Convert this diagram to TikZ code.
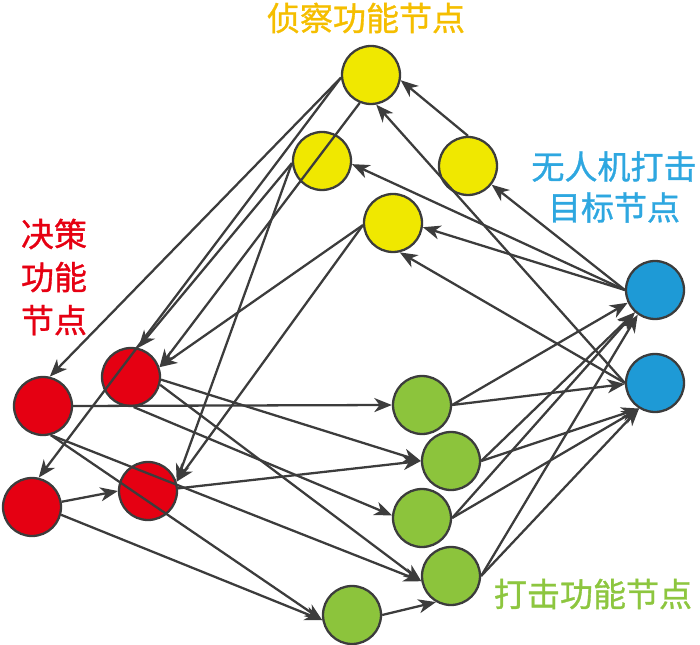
\documentclass[tikz,border=0pt]{standalone}
\usepackage{fontspec}
\newfontfamily\cjk{Noto Sans CJK SC}[FakeBold=1]
\usetikzlibrary{arrows.meta, positioning}
\definecolor{edgegray}{HTML}{3C3C3C}
\definecolor{reconfill}{HTML}{F0E800}
\definecolor{decisionfill}{HTML}{E50012}
\definecolor{strikefill}{HTML}{8CC43C}
\definecolor{targetfill}{HTML}{1E9AD6}
\definecolor{recontext}{HTML}{F5BE00}
\definecolor{decisiontext}{HTML}{E60012}
\definecolor{striketext}{HTML}{8DC63F}
\definecolor{targettext}{HTML}{2EA7E0}

\begin{document}
\begin{tikzpicture}[x=0.02cm, y=-0.02cm,
    unit/.style={circle, draw=edgegray, line width=1.3pt, minimum size=1.16cm, inner sep=0pt},
    link/.style={draw=edgegray, line width=1.3pt, -{Stealth[length=10pt, width=8pt, inset=3pt]}},
    tag/.style={font=\cjk\fontsize{18.8}{24.5}\selectfont, align=center, inner sep=0pt}]
  \useasboundingbox (0,0) rectangle (700,645);
  % Reconnaissance nodes
  \node[unit, fill=reconfill] (y1) at (371,75) {};
  \node[unit, fill=reconfill] (y2) at (322,161) {};
  \node[unit, fill=reconfill] (y3) at (468,166) {};
  \node[unit, fill=reconfill] (y4) at (393,223) {};
  % Target nodes
  \node[unit, fill=targetfill] (b1) at (655,290) {};
  \node[unit, fill=targetfill] (b2) at (655,383) {};
  % Strike nodes
  \node[unit, fill=strikefill] (g1) at (422,405) {};
  \node[unit, fill=strikefill] (g2) at (451,461) {};
  \node[unit, fill=strikefill] (g3) at (422,518) {};
  \node[unit, fill=strikefill] (g4) at (451,576) {};
  \node[unit, fill=strikefill] (g5) at (352,615) {};
  % Decision nodes
  \node[unit, fill=decisionfill] (r1) at (43,406) {};
  \node[unit, fill=decisionfill] (r2) at (131,377) {};
  \node[unit, fill=decisionfill] (r3) at (32,507) {};
  \node[unit, fill=decisionfill] (r4) at (148,491) {};
  % Labels
  \node[tag, text=recontext] (reconlabel) at (366,18) {侦察功能节点};
  \node[tag, text=targettext, font=\cjk\fontsize{18.8}{23.3}\selectfont] (targetlabel) at (614,187) {无人机打击\\目标节点};
  \node[tag, text=decisiontext] (decisionlabel) at (54,277) {决策\\功能\\节点};
  \node[tag, text=striketext] (strikelabel) at (593,594) {打击功能节点};
  % Reconnaissance to decision
  \draw[link] (y1.185) -- (r1.77);
  \draw[link] (y1.185) -- (r3.77);
  \draw[link] (y1.248) -- (r2.19);
  \draw[link] (y2.184) -- (r2.76);
  \draw[link] (y2.184) -- (r4.18);
  \draw[link] (y4.184) -- (r2.19);
  \draw[link] (y4.184) -- (r4.18);
  \draw[link] (y3.north) -- (y1.350);
  % Decision to strike
  \draw[link] (r3.10) -- (r4.west);
  \draw[link] (r1.east) -- (g1.west);
  \draw[link] (r1.-75) -- (g4.190);
  \draw[link] (r1.-75) -- (g5.190);
  \draw[link] (r2.-5) -- (g2.west);
  \draw[link] (r2.-85) -- (g3.175);
  \draw[link] (r2.-15) -- (g4.190);
  \draw[link] (r4.5) -- (g2.west);
  \draw[link] (r3.-15) -- (g5.190);
  \draw[link] (g5.east) -- (g4.240);
  % Strike to target
  \draw[link] (g1.east) -- (b1.205);
  \draw[link] (g1.east) -- (b2.182);
  \draw[link] (g2.east) -- (b1.228);
  \draw[link] (g2.east) -- (b2.238);
  \draw[link] (g3.east) -- (b1.228);
  \draw[link] (g3.east) -- (b2.238);
  \draw[link] (g4.east) -- (b1.235);
  \draw[link] (g4.east) -- (b2.238);
  % Target to reconnaissance
  \draw[link] (b1.west) -- (y2.354);
  \draw[link] (b1.west) -- (y3);
  \draw[link] (b1.west) -- (y4.352);
  \draw[link] (b2.west) -- (y1.280);
  \draw[link] (b2.west) -- (y4.283);
\end{tikzpicture}
\end{document}
